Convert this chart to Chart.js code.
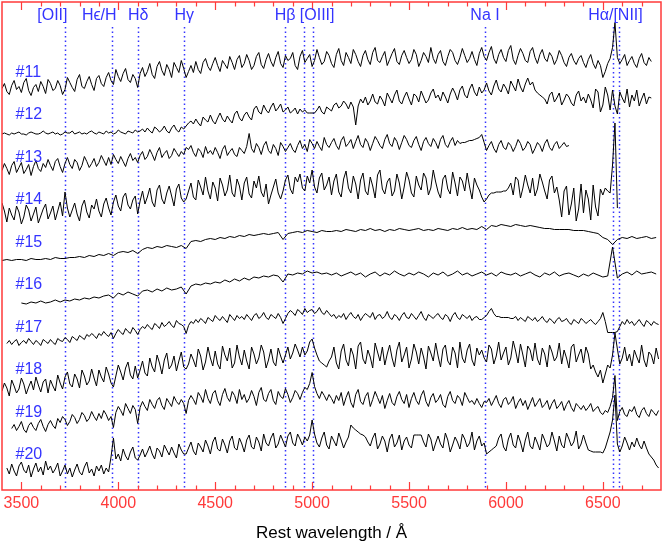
<!DOCTYPE html>
<html>
<head>
<meta charset="utf-8">
<script src="https://cdn.jsdelivr.net/npm/chart.js@4.4.1/dist/chart.umd.min.js"></script>
<style>
  html, body { margin: 0; padding: 0; background: #fff; }
  #wrap { width: 663px; height: 545px; }
</style>
</head>
<body>
<div id="wrap"><canvas id="chart"></canvas></div>
<script>
// sampling grids (rest-frame Angstrom): 12.5 A pixels, 25 A for the smooth spectra
const waveFine = Array.from({ length: 272 }, (_, j) => 3400 + 12.5 * j);
const waveCoarse = Array.from({ length: 136 }, (_, j) => 3400 + 25 * j);

// relative flux of each spectrum (arbitrary units)
const spec11 = [
  19,24,16,13,22,27,18,21,15,25,29,17,12,20,23,16,26,21,14,28,
  24,17,19,27,22,13,18,30,25,20,16,28,33,21,19,26,31,23,17,29,
  32,24,21,30,35,27,23,38,31,26,34,39,28,25,33,29,20,34,40,31,
  36,44,33,29,41,46,37,32,43,38,30,45,40,35,47,39,30,36,42,35,
  46,38,34,45,49,41,37,44,50,42,36,47,43,39,51,45,38,48,52,40,
  44,53,47,38,42,51,55,43,39,48,54,46,41,50,56,44,40,52,47,49,
  55,42,38,51,57,45,49,53,41,47,58,50,43,46,56,52,44,40,53,59,
  47,42,55,50,44,58,53,46,41,52,57,48,43,55,60,47,45,51,56,42,
  48,54,59,46,43,52,57,50,44,48,58,53,41,47,55,51,45,60,49,44,
  53,57,46,42,51,58,55,47,43,50,59,52,45,49,56,48,42,54,60,51,
  47,55,61,49,44,53,58,50,46,57,62,48,43,52,59,54,47,45,56,60,
  50,44,53,58,49,46,55,51,43,48,57,52,45,41,50,54,47,43,49,52,
  45,40,48,53,44,39,47,42,30,36,44,49,60,85,50,44,48,53,42,47,
  51,44,40,49,54,45,42,50,46,null,null,null
];
const spec12 = [
  16,17,16,15,17,16,17,18,16,16,15,17,18,17,16,16,17,19,17,16,
  17,18,16,17,15,16,18,17,17,19,16,17,18,16,17,16,18,19,17,16,
  18,17,16,19,17,18,16,17,20,18,17,16,19,18,17,20,18,19,21,18,
  22,19,17,23,21,18,20,24,19,17,22,25,20,18,23,21,24,27,29,26,
  31,27,24,33,30,28,35,29,26,32,37,31,28,34,30,27,36,39,32,29,
  35,38,33,30,41,44,38,36,45,40,37,43,47,39,42,46,38,40,43,37,
  39,42,36,41,38,40,37,37,37,37,40,44,38,36,43,41,39,45,47,42,
  44,49,46,41,48,43,25,44,51,47,53,45,49,56,48,46,54,50,44,57,
  52,47,55,60,49,46,53,58,51,45,56,54,48,59,53,47,50,57,61,52,
  55,49,58,53,47,56,62,57,50,60,64,55,52,61,66,58,54,63,57,60,
  67,59,55,64,70,61,58,66,62,56,69,64,59,71,63,58,66,72,65,68,
  60,57,55,53,51,46,55,58,48,52,57,45,50,56,53,47,44,55,59,49,
  53,47,56,50,42,61,58,38,45,63,55,40,60,44,36,58,52,47,61,43,
  55,49,60,44,51,57,46,53,52,null,null,null
];
const spec13 = [
  22,29,24,18,27,31,20,25,30,19,23,28,17,26,32,24,21,29,25,33,
  27,22,31,34,26,20,29,35,28,24,33,30,22,27,36,31,25,29,34,26,
  30,37,32,27,35,28,38,33,29,36,31,26,34,39,32,35,30,37,41,33,
  36,43,38,32,40,45,35,39,42,34,37,44,40,36,41,38,45,43,47,40,
  36,44,41,35,46,39,42,38,45,40,34,43,47,37,41,44,38,36,45,42,
  39,46,59,44,40,49,45,38,47,51,42,39,48,44,37,50,46,41,45,49,
  43,40,47,52,44,48,41,53,49,44,51,46,42,55,48,45,50,54,47,43,
  52,56,46,49,53,44,51,57,48,45,54,50,42,49,56,52,47,44,53,58,
  49,46,55,51,43,50,57,53,47,45,52,56,48,42,51,55,49,46,54,50,
  44,53,57,48,45,51,55,47,52,49,50,50,51,52,52,53,54,55,58,50,
  42,47,51,44,40,48,52,45,43,50,47,41,46,53,49,42,45,51,48,39,
  44,50,47,41,49,53,45,42,48,51,44,47,50,46,47,null,null,null,null,null,
  null,null,null,null,null,null,null,null,null,null,null,null,null,null,null,null,null,null,null,null,
  null,null,null,null,null,null,null,null,null,null,null,null
];
const spec14 = [
  32,24,13,27,20,15,29,23,11,18,30,25,14,21,28,12,19,26,31,16,
  22,29,15,24,33,19,43,27,18,25,32,21,14,29,35,23,17,30,26,36,
  24,18,31,37,27,20,33,40,29,24,38,42,30,26,35,39,21,34,44,31,
  38,47,33,28,45,50,36,31,42,49,39,29,46,51,37,33,36,44,52,38,
  35,55,48,40,58,44,36,53,47,34,57,50,39,45,60,42,38,56,49,35,
  52,58,41,37,54,47,59,43,38,51,31,40,48,56,42,36,44,55,60,46,
  41,58,53,61,47,44,59,52,65,48,42,57,62,45,50,58,40,54,61,43,
  38,56,64,47,42,59,51,36,55,62,44,40,58,49,37,60,65,46,41,53,
  57,39,44,61,52,36,48,63,55,42,38,59,50,45,62,57,40,47,65,53,
  43,37,56,60,46,41,63,52,39,58,54,44,62,48,36,57,50,45,38,33,
  36,40,42,42,43,43,43,44,44,47,52,40,58,55,37,47,60,50,42,57,
  39,46,61,53,44,36,55,59,42,48,35,18,44,49,20,31,47,14,26,51,
  22,45,36,15,50,28,19,46,40,47,44,42,70,112,27,null,null,null,null,null,
  null,null,null,null,null,null,null,null,null,null,null,null
];
const spec15 = [
  17,18,17,18,18,17,19,18,18,19, 18,20,19,19,20,20,21,20,22,21,
  23,22,24,22,25,26,25,27,24,28, 30,29,31,30,32,31,30,32,29,36,
  37,36,38,39,38,40,39,41,40,42, 41,43,42,43,44,43,44,45,38,44,
  45,46,45,47,46,45,47,46,46,47, 46,48,47,46,48,47,49,47,48,46,
  48,47,49,48,47,48,49,47,48,47, 49,48,47,49,48,50,48,49,48,51,
  48,52,51,53,52,51,53,52,51,52, 51,50,49,49,48,48,48,48,47,47,
  47,46,45,44,40,38,33,38,40,39, 41,39,40,41,39,40
];
const spec16 = [
  null,null,null,null,17,16,18,17,19,17, 18,20,18,20,19,21,20,22,21,23,
  22,24,25,22,27,25,28,26,24,29, 30,28,31,29,32,30,31,33,26,34,
  36,35,37,36,38,37,40,38,41,39, 42,40,43,42,44,43,45,44,38,46,
  45,47,46,49,47,48,46,47,45,47, 44,46,48,45,47,43,46,48,44,47,
  45,49,46,44,47,45,48,46,43,47, 45,48,44,46,49,45,47,44,46,48,
  45,47,44,48,46,45,47,44,46,48, 45,43,47,45,48,44,46,47,45,43,
  46,44,47,45,43,44,73,42,46,48, 45,49,46,47,48,46
];
const spec17 = [
  null,null,19,22,18,21,23,17,20,22,19,24,21,18,22,20,17,23,21,19,
  23,20,18,24,22,21,25,23,20,26,24,22,27,25,23,28,26,29,27,24,
  29,27,31,28,26,30,24,29,33,30,28,34,31,29,35,32,28,33,36,34,
  38,35,33,39,37,34,40,36,38,41,37,35,42,39,38,36,29,37,41,39,
  43,40,44,42,39,45,43,41,47,44,42,46,43,40,48,45,42,47,44,46,
  43,48,45,42,47,49,44,46,50,45,43,48,46,44,49,45,39,44,49,52,
  50,47,53,51,48,54,50,52,53,49,51,55,50,48,52,49,46,48,44,47,
  45,49,43,47,50,46,44,48,42,46,49,47,45,50,43,47,48,44,46,51,
  45,43,48,46,42,47,50,45,44,49,46,43,47,51,45,42,48,46,44,47,
  49,45,43,48,46,41,47,50,45,43,48,46,44,47,42,45,46,43,43,45,
  47,51,54,49,46,46,45,45,45,45,44,44,46,42,45,43,41,46,44,42,
  45,41,43,46,42,40,44,42,39,43,45,41,42,44,40,38,43,41,39,44,
  42,39,41,43,40,38,41,44,50,41,30,30,30,30,31,36,41,38,43,39,
  41,37,40,43,39,36,42,40,37,41,39,38
];
const spec18 = [
  14,22,17,9,25,19,12,16,27,21,11,18,24,15,28,20,13,23,26,12,
  25,19,14,30,22,16,28,33,21,18,31,26,17,35,29,20,24,36,27,19,
  35,28,23,38,31,22,18,29,40,33,25,37,43,30,26,39,27,35,44,32,
  29,47,38,33,50,42,31,45,52,36,40,49,34,44,53,38,36,41,51,45,
  38,56,49,35,43,58,47,39,54,41,36,59,50,44,57,37,42,60,48,40,
  55,44,36,58,51,41,47,60,53,37,45,56,43,39,57,49,42,50,58,46,
  52,61,55,48,58,50,54,63,66,57,50,44,42,40,38,44,48,58,42,36,
  54,61,45,39,57,50,36,59,63,46,41,55,48,37,62,53,44,58,40,51,
  60,47,38,55,63,43,50,58,37,46,61,53,41,57,48,36,59,52,44,62,
  49,38,56,60,44,40,58,52,37,63,47,42,55,61,45,39,57,50,55,47,
  43,60,56,41,49,63,45,52,58,40,47,64,54,42,61,50,38,59,55,44,
  62,46,40,57,51,38,60,53,44,48,62,41,55,47,37,58,61,43,50,56,
  42,58,51,36,40,33,28,35,22,31,40,37,50,72,56,41,47,58,44,51,
  39,55,48,42,60,45,38,53,50,41,57,46
];
const spec19 = [
  null,null,null,null,19,23,17,21,26,18,15,22,25,20,17,24,28,21,16,23,
  27,22,19,29,25,31,28,22,26,33,30,24,28,35,32,26,29,36,31,27,
  34,29,37,33,27,31,20,35,41,37,32,44,39,34,42,38,24,40,46,41,
  37,48,43,39,47,50,42,38,49,45,41,51,46,43,48,44,34,47,52,48,
  43,55,51,45,58,49,44,54,57,47,42,53,59,50,46,56,52,44,58,48,
  53,45,49,57,51,42,55,60,48,46,54,58,47,43,56,51,49,59,53,45,
  50,57,54,48,55,60,58,64,75,61,54,49,56,52,47,53,49,44,52,47,
  55,42,50,56,45,40,53,58,46,43,51,55,41,48,56,50,44,52,39,47,
  54,45,42,51,56,48,44,53,40,49,55,47,43,52,57,46,41,50,54,45,
  48,53,43,40,51,56,47,44,52,49,42,55,50,45,47,43,49,44,40,46,
  45,49,42,47,52,44,40,48,50,43,46,51,39,45,49,42,47,38,44,50,
  41,45,49,40,43,47,38,44,48,39,42,46,37,43,47,40,36,44,41,38,
  42,37,40,44,36,39,41,35,33,37,35,41,50,72,27,36,40,33,31,38,
  36,41,33,30,37,40,34,31,38,35,32,37
];
const spec20 = [
  null,null,22,16,26,19,14,24,28,20,17,25,13,21,27,18,23,15,29,20,
  24,17,21,27,14,19,25,16,22,13,20,26,18,15,23,28,17,21,14,24,
  19,25,16,22,18,33,52,31,36,29,41,34,30,38,43,32,30,35,41,33,
  38,44,36,31,42,39,33,45,40,35,43,37,32,46,40,36,36,42,48,39,
  35,47,43,38,50,44,36,48,53,41,39,51,45,37,49,54,42,40,52,46,
  38,50,55,43,41,53,48,39,56,47,44,52,57,42,46,55,49,43,54,58,
  47,44,56,51,45,53,49,55,70,56,47,43,52,58,45,41,54,49,44,57,
  50,42,48,53,65,62,60,58,56,55,53,48,44,52,57,41,46,54,49,38,
  51,56,43,47,55,40,49,53,45,42,55,55,55,55,48,43,56,51,39,47,
  54,46,42,57,50,38,45,53,48,41,56,51,43,47,58,40,49,54,44,47,
  36,38,40,42,44,52,56,43,39,51,57,45,42,55,48,38,50,58,44,41,
  53,47,40,56,50,43,46,58,49,39,54,45,42,57,51,44,48,59,41,46,
  55,47,40,39,38,38,38,38,37,42,50,58,70,95,46,38,44,53,47,40,
  48,43,52,45,41,49,42,36,33,30,25,22
];

const spectra = [spec11, spec12, spec13, spec14, spec15, spec16, spec17, spec18, spec19, spec20];
const grids = [waveFine, waveFine, waveFine, waveFine, waveCoarse, waveCoarse, waveFine, waveFine, waveFine, waveFine];
const specNames = ['#11', '#12', '#13', '#14', '#15', '#16', '#17', '#18', '#19', '#20'];
const offsets = [382.5, 340, 297.5, 255, 212.5, 170, 127.5, 85, 42.5, 0];

// x-axis tick labels
const tickVals = [3500, 4000, 4500, 5000, 5500, 6000, 6500];

// spectral features: dotted markers and their labels
const lineWaves = [3727, 3970, 4102, 4341, 4861, 4959, 5007, 5893, 6550, 6584];
const lineNames = ['[OII]', 'H\u03F5/H', 'H\u03B4', 'H\u03B3', 'H\u03B2', '[OIII]', 'Na I', 'H\u03B1/[NII]'];
const nameWaves = [3660, 3902, 4103, 4340, 4861, 5026, 5892, 6565];

const RED = '#ff3a3a';
const BLUE = '#3434ff';
const FONT = '"Liberation Sans", Arial, sans-serif';

Chart.defaults.font.family = FONT;

const decor = {
  id: 'decor',
  beforeDatasetsDraw(chart) {
    const { ctx, chartArea: a, scales: { x, y } } = chart;
    ctx.save();
    ctx.strokeStyle = BLUE;
    ctx.lineWidth = 1.5;
    ctx.setLineDash([1.5, 3]);
    lineWaves.forEach(w => {
      const px = Math.round(x.getPixelForValue(w)) + 0.5;
      ctx.beginPath();
      ctx.moveTo(px, y.getPixelForValue(463));
      ctx.lineTo(px, a.bottom);
      ctx.stroke();
    });
    ctx.restore();
  },
  afterDraw(chart) {
    const { ctx, chartArea: a, scales: { x, y } } = chart;
    ctx.save();
    // frame
    ctx.strokeStyle = RED;
    ctx.lineWidth = 1.5;
    ctx.strokeRect(a.left, a.top, a.right - a.left, a.bottom - a.top);
    // inward ticks on top and bottom
    ctx.lineWidth = 1.2;
    for (let v = 3500; v < 6800; v += 100) {
      const px = Math.round(x.getPixelForValue(v)) + 0.5;
      const len = v % 500 === 0 ? 8 : 4.5;
      ctx.beginPath();
      ctx.moveTo(px, a.bottom);
      ctx.lineTo(px, a.bottom - len);
      ctx.moveTo(px, a.top);
      ctx.lineTo(px, a.top + len);
      ctx.stroke();
    }
    // feature labels
    ctx.fillStyle = BLUE;
    ctx.font = '16px ' + FONT;
    ctx.textAlign = 'center';
    ctx.textBaseline = 'middle';
    lineNames.forEach((n, i) => {
      ctx.fillText(n, x.getPixelForValue(nameWaves[i]), y.getPixelForValue(474));
    });
    // spectrum ids
    ctx.textAlign = 'left';
    specNames.forEach((n, k) => {
      ctx.fillText(n, x.getPixelForValue(3470), y.getPixelForValue(offsets[k] + 35));
    });
    ctx.restore();
  }
};

new Chart(document.getElementById('chart'), {
  type: 'line',
  data: {
    datasets: spectra.map((s, k) => ({
      label: specNames[k],
      data: grids[k].map((w, i) => ({ x: w, y: s[i] == null ? null : s[i] + offsets[k] })),
      borderColor: '#000',
      borderWidth: 1,
      pointRadius: 0,
      tension: 0,
      fill: false,
      spanGaps: false
    }))
  },
  options: {
    responsive: true,
    maintainAspectRatio: false,
    animation: false,
    devicePixelRatio: 1,
    layout: { padding: { left: 2, right: 2, top: 2, bottom: 0 } },
    plugins: { legend: { display: false }, tooltip: { enabled: false } },
    scales: {
      x: {
        type: 'linear',
        min: 3400,
        max: 6800,
        afterBuildTicks: s => { s.ticks = tickVals.map(v => ({ value: v })); },
        afterFit: s => { s.paddingLeft = 0; s.paddingRight = 0; s.height = 55; },
        grid: { display: false, drawTicks: false },
        border: { display: false },
        ticks: {
          color: RED,
          font: { size: 16 },
          padding: 4,
          maxRotation: 0,
          autoSkip: false,
          callback: v => String(v)
        },
        title: {
          display: true,
          text: 'Rest wavelength / \u00C5',
          color: '#000',
          font: { size: 17 },
          padding: { top: 9, bottom: 1 }
        }
      },
      y: { display: false, min: 0, max: 488 }
    }
  },
  plugins: [decor]
});
</script>
</body>
</html>
